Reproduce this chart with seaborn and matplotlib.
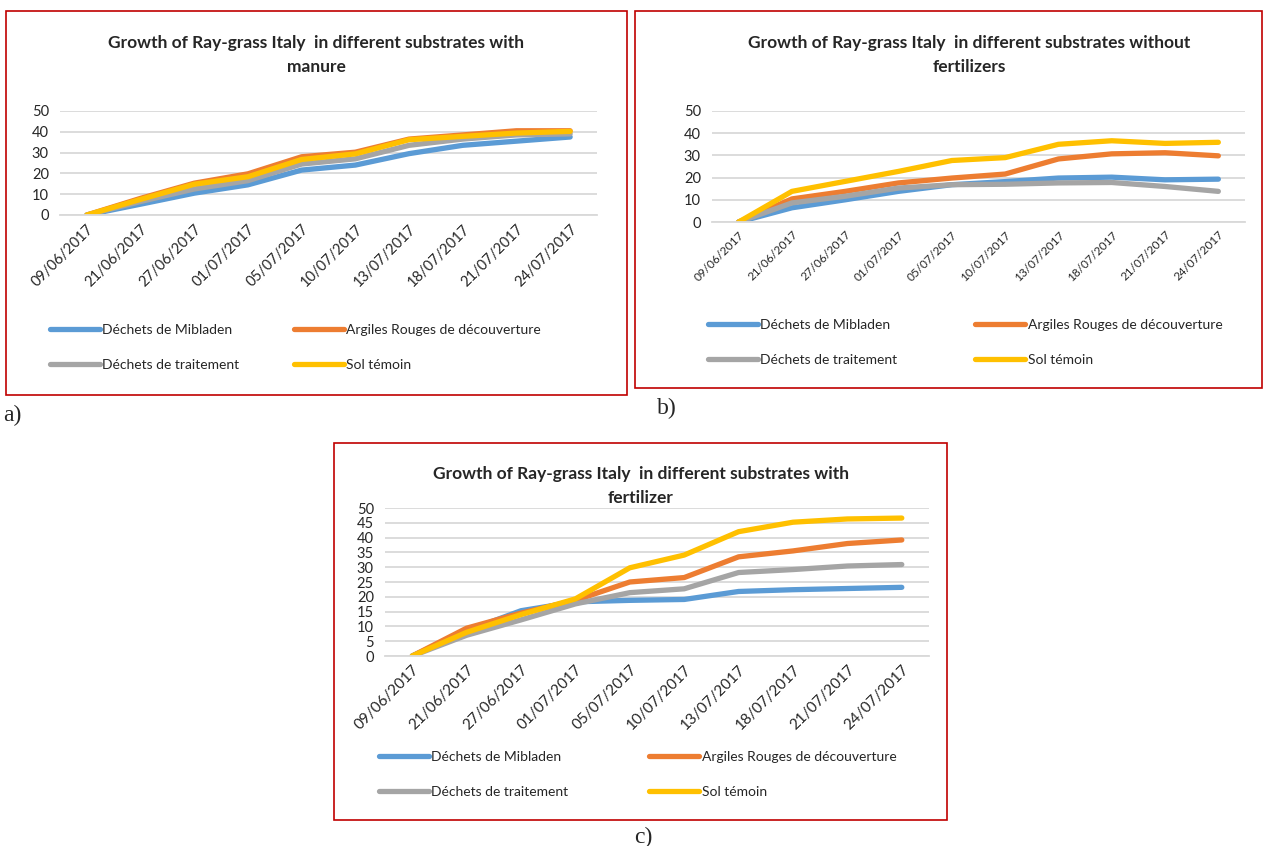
import numpy as np
import pandas as pd
import matplotlib
matplotlib.use("Agg")
import matplotlib.pyplot as plt
from matplotlib.patches import Rectangle
from matplotlib.ticker import FixedLocator
import seaborn as sns

# DATA
dates = ['09/06/2017', '21/06/2017', '27/06/2017', '01/07/2017', '05/07/2017',
         '10/07/2017', '13/07/2017', '18/07/2017', '21/07/2017', '24/07/2017']
series_names = ['Déchets de Mibladen', 'Argiles Rouges de découverture',
                'Déchets de traitement', 'Sol témoin']

# a) with manure
mib_a = [0, 5.2, 10.5, 14.5, 21.6, 24.0, 29.5, 33.5, 35.5, 37.5]
arg_a = [0, 8.0, 15.3, 19.8, 28.0, 30.2, 36.5, 38.5, 40.5, 40.5]
trt_a = [0, 6.5, 12.5, 16.5, 24.5, 27.0, 33.5, 36.5, 38.5, 39.0]
sol_a = [0, 7.5, 14.8, 18.4, 26.7, 29.4, 36.2, 37.8, 39.4, 40.2]

# b) without fertilizers
mib_b = [0, 6.4, 10.0, 13.8, 16.8, 18.2, 19.8, 20.2, 19.0, 19.3]
arg_b = [0, 10.4, 13.8, 17.6, 19.8, 21.6, 28.4, 30.7, 31.2, 29.8]
trt_b = [0, 8.6, 11.6, 15.3, 16.8, 17.0, 17.6, 17.8, 16.0, 13.8]
sol_b = [0, 13.8, 18.3, 22.8, 27.7, 29.0, 35.0, 36.6, 35.4, 35.9]

# c) with fertilizer
mib_c = [0, 8.5, 15.3, 18.3, 18.8, 19.1, 21.8, 22.4, 22.8, 23.2]
arg_c = [0, 9.4, 14.5, 18.8, 25.0, 26.5, 33.5, 35.5, 38.0, 39.2]
trt_c = [0, 7.0, 12.2, 17.6, 21.4, 22.7, 28.2, 29.2, 30.4, 30.9]
sol_c = [0, 8.0, 14.0, 19.3, 29.8, 34.1, 42.0, 45.2, 46.3, 46.6]

colors = ['#5B9BD5', '#ED7D31', '#A5A5A5', '#FFC000']

W, H = 1263, 846
sns.set_theme(style="white")
plt.rcParams['font.family'] = ['Lato', 'DejaVu Sans']

fig = plt.figure(figsize=(W / 100, H / 100), dpi=100)


def px_axes(x0, y0, x1, y1):
    # pixel box (top-left origin) -> figure axes
    return fig.add_axes([x0 / W, 1 - y1 / H, (x1 - x0) / W, (y1 - y0) / H])


def box(x0, y0, x1, y1):
    fig.patches.append(Rectangle((x0 / W, 1 - y1 / H), (x1 - x0) / W, (y1 - y0) / H,
                                 transform=fig.transFigure, fill=False,
                                 edgecolor='#C00000', linewidth=1.2))


def panel(values, title, plot_box, ystep, title_xy, leg_xy, tick_fs, colsp):
    df = pd.DataFrame({
        'x': list(range(len(dates))) * 4,
        'y': sum(values, []),
        'Substrat': np.repeat(series_names, len(dates)),
    })
    ax = px_axes(*plot_box)
    sns.lineplot(data=df, x='x', y='y', hue='Substrat', palette=colors,
                 linewidth=3.8, ax=ax, legend=False, solid_capstyle='round')
    ax.set_xlim(-0.5, len(dates) - 0.5)
    ax.set_ylim(0, 50)
    ax.set_yticks(np.arange(0, 51, ystep))
    ax.set_xticks(range(len(dates)))
    ax.set_xticklabels(dates, rotation=45, ha='right', rotation_mode='anchor',
                       fontsize=tick_fs)
    ax.xaxis.set_minor_locator(FixedLocator(np.arange(-0.5, len(dates), 1)))
    ax.tick_params(axis='x', which='major', length=0, pad=5)
    ax.tick_params(axis='x', which='minor', length=4, color='#D9D9D9', width=1)
    ax.tick_params(axis='y', length=0, labelsize=10.5, pad=8)
    ax.grid(axis='y', color='#D9D9D9', linewidth=1.3)
    ax.set_axisbelow(True)
    for s in ['top', 'right', 'left']:
        ax.spines[s].set_visible(False)
    ax.spines['bottom'].set_color('#D9D9D9')
    ax.spines['bottom'].set_linewidth(1.3)
    ax.set_xlabel('')
    ax.set_ylabel('')
    fig.text(title_xy[0] / W, 1 - title_xy[1] / H, title, ha='center', va='top',
             fontsize=12.5, fontweight='bold', linespacing=1.65)
    handles = [plt.Line2D([], [], color=c, linewidth=3.8, solid_capstyle='round')
               for c in colors]
    order = [0, 2, 1, 3]
    ax.legend([handles[i] for i in order], [series_names[i] for i in order],
              ncol=2, loc='upper left', frameon=False,
              bbox_to_anchor=(leg_xy[0] / W, 1 - leg_xy[1] / H),
              bbox_transform=fig.transFigure, fontsize=10,
              handlelength=3.6, handletextpad=0.2, columnspacing=colsp,
              labelspacing=1.7, borderaxespad=0)
    return ax


# a)
box(6, 11, 627, 395)
panel([mib_a, arg_a, trt_a, sol_a],
      'Growth of Ray-grass Italy  in different substrates with\nmanure',
      (60, 111, 597, 215), 10, (316, 35), (44, 318), 10.5, 3.9)

# b)
box(635, 11, 1262, 388)
panel([mib_b, arg_b, trt_b, sol_b],
      'Growth of Ray-grass Italy  in different substrates without\nfertilizers',
      (712, 111, 1245, 222), 10, (969, 35), (702, 313), 8.5, 5.6)

# c)
box(334, 443, 947, 820)
panel([mib_c, arg_c, trt_c, sol_c],
      'Growth of Ray-grass Italy  in different substrates with\nfertilizer',
      (385, 508, 929, 656), 5, (641, 466), (373, 745), 11, 5.8)

serif = ['Liberation Serif', 'DejaVu Serif']
fig.text(3 / W, 1 - 421 / H, 'a)', fontsize=17, family=serif, va='baseline')
fig.text(657 / W, 1 - 414 / H, 'b)', fontsize=17, family=serif, va='baseline')
fig.text(634 / W, 1 - 843 / H, 'c)', fontsize=17, family=serif, va='baseline')

fig.savefig('out.png', dpi=100)
